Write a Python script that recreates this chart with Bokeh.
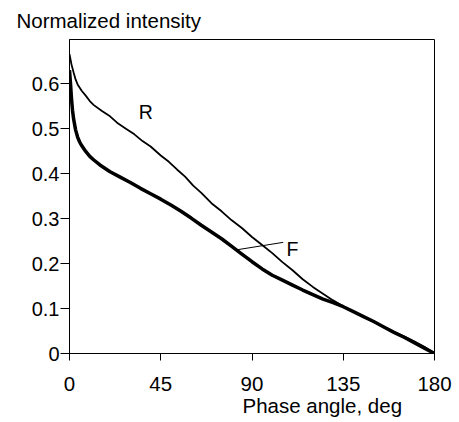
from bokeh.plotting import figure
from bokeh.models import Range1d, Label, FixedTicker, Title
from bokeh.embed import file_html
from bokeh.resources import INLINE

# --- data ---
phase_R = [0, 1, 2, 3, 4, 6, 8, 10, 12, 16, 20, 24, 28, 32, 36, 40, 45, 49, 53,
           57, 61, 65, 70, 75, 80, 85, 90, 95, 100, 105, 110, 115, 120, 125, 130,
           135, 140, 145, 150, 155, 160, 165, 170, 175, 180]
intensity_R = [0.665, 0.642, 0.625, 0.609, 0.598, 0.584, 0.573, 0.561, 0.552, 0.539,
               0.527, 0.511, 0.499, 0.487, 0.472, 0.460, 0.440, 0.426, 0.409,
               0.393, 0.373, 0.357, 0.334, 0.316, 0.296, 0.279, 0.259, 0.241, 0.223,
               0.203, 0.185, 0.165, 0.148, 0.133, 0.118, 0.105, 0.093, 0.081,
               0.070, 0.059, 0.048, 0.038, 0.027, 0.015, 0.0]

phase_F = [0, 0.5, 1, 1.5, 2, 3, 4, 5, 6, 8, 10, 12, 15, 20, 25, 30, 35, 40, 45,
           50, 55, 60, 65, 70, 75, 80, 85, 90, 95, 100, 105, 110, 115, 120, 125,
           130, 135, 140, 145, 150, 155, 160, 165, 170, 175, 180]
intensity_F = [0.630, 0.600, 0.565, 0.540, 0.522, 0.497, 0.481, 0.470, 0.462, 0.449,
               0.438, 0.430, 0.419, 0.404, 0.392, 0.380, 0.367, 0.355, 0.343,
               0.330, 0.316, 0.301, 0.285, 0.270, 0.255, 0.238, 0.221, 0.204, 0.188,
               0.174, 0.163, 0.152, 0.141, 0.131, 0.121, 0.113, 0.104, 0.093, 0.082,
               0.071, 0.059, 0.047, 0.036, 0.024, 0.012, 0.0]

leader_x = [81.9, 105.4]
leader_y = [0.230, 0.247]

x_ticks = [0, 45, 90, 135, 180]
y_ticks = [0, 0.1, 0.2, 0.3, 0.4, 0.5, 0.6]
y_tick_labels = {0: "0", 0.1: "0.1", 0.2: "0.2", 0.3: "0.3", 0.4: "0.4", 0.5: "0.5", 0.6: "0.6"}

FONT = "Liberation Sans"

p = figure(width=459, height=422, output_backend="svg", toolbar_location=None,
           x_range=Range1d(0, 180), y_range=Range1d(0, 0.6978),
           min_border_left=69, min_border_right=25, min_border_top=39,
           min_border_bottom=69)
p.grid.visible = False
p.outline_line_color = "black"
p.outline_line_width = 1
p.background_fill_color = "white"
p.border_fill_color = "white"

for ax in (p.xaxis[0], p.yaxis[0]):
    ax.axis_line_color = "black"
    ax.major_tick_line_color = "black"
    ax.minor_tick_line_color = None
    ax.major_tick_in = 0
    ax.major_label_text_font = FONT
    ax.major_label_text_color = "black"

p.xaxis.ticker = FixedTicker(ticks=x_ticks)
p.xaxis.major_tick_out = 7
p.xaxis.major_label_text_font_size = "20.5px"
p.xaxis.major_label_standoff = 16

p.yaxis.ticker = FixedTicker(ticks=y_ticks)
p.yaxis.major_label_overrides = y_tick_labels
p.yaxis.major_tick_out = 9
p.yaxis.major_label_text_font_size = "20px"
p.yaxis.major_label_standoff = 1

p.line(phase_R, intensity_R, line_color="black", line_width=1.8)
p.line(phase_F, intensity_F, line_color="black", line_width=3.5)
p.line(leader_x, leader_y, line_color="black", line_width=1)

p.add_layout(Label(x=34.2, y=0.536, text="R", text_font=FONT, text_font_size="19.5px",
                   text_baseline="alphabetic", text_color="black"))
p.add_layout(Label(x=107.0, y=0.2327, text="F", text_font=FONT, text_font_size="19.5px",
                   text_baseline="alphabetic", text_color="black"))

top_title = Title(text="Normalized intensity", align="left", offset=-53,
                  vertical_align="top",
                  text_font=FONT, text_font_size="20.5px", text_font_style="normal",
                  text_color="black", standoff=12)
p.add_layout(top_title, "above")

bottom_title = Title(text="Phase angle, deg", align="left", offset=173,
                     text_font=FONT, text_font_size="20.5px", text_font_style="normal",
                     text_color="black", standoff=-4)
p.add_layout(bottom_title, "below")

open("out.html", "w").write(file_html(p, INLINE))
